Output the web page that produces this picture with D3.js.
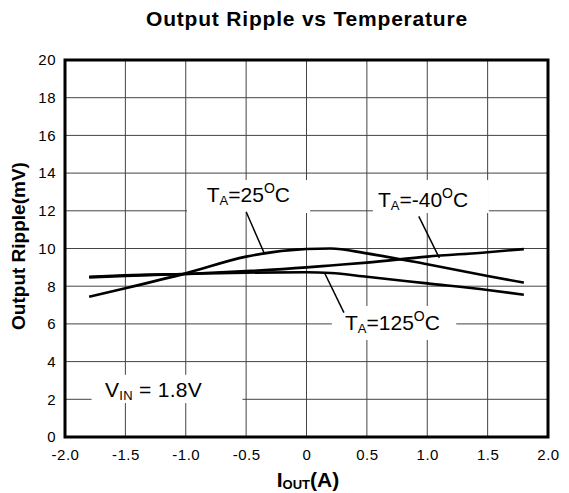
<!DOCTYPE html>
<html>
<head>
<meta charset="utf-8">
<script src="https://cdn.jsdelivr.net/npm/d3@7"></script>
<style>
  body { margin: 0; background: #fff; }
  svg { font-family: "Liberation Sans", Arial, sans-serif; }
</style>
</head>
<body>
<div id="chart"></div>
<script>
// data
var iout = [-1.8, -1.5, -1.0, -0.5, 0, 0.2, 0.5, 1.0, 1.5, 1.8];
var rippleM40 = [8.47, 8.55, 8.65, 8.8, 9.0, 9.1, 9.25, 9.57, 9.8, 9.97];
var ripple25 = [7.44, 7.89, 8.68, 9.57, 9.97, 10.0, 9.74, 9.16, 8.54, 8.19];
var ripple125 = [8.5, 8.58, 8.65, 8.72, 8.74, 8.7, 8.5, 8.15, 7.8, 7.55];
var xTicks = [-2.0, -1.5, -1.0, -0.5, 0, 0.5, 1.0, 1.5, 2.0];
var xTickLabels = ['-2.0', '-1.5', '-1.0', '-0.5', '0', '0.5', '1.0', '1.5', '2.0'];
var yTicks = [0, 2, 4, 6, 8, 10, 12, 14, 16, 18, 20];

var margin = {top: 60, bottom: 56, left: 65, right: 21};
var width = 569 - margin.left - margin.right,
    height = 493 - margin.top - margin.bottom;

var svg = d3.select('#chart').append('svg')
    .attr('width', 569)
    .attr('height', 493);

var g = svg.append('g')
    .attr('transform', 'translate(' + margin.left + ',' + margin.top + ')');

var x = d3.scaleLinear().domain([-2, 2]).range([0, width]);
var y = d3.scaleLinear().domain([0, 20]).range([height, 0]);

// grid
g.append('g').selectAll('line')
    .data(xTicks.slice(1, -1))
    .enter().append('line')
    .attr('x1', function (d) { return x(d); })
    .attr('x2', function (d) { return x(d); })
    .attr('y1', 0).attr('y2', height)
    .attr('stroke', '#444').attr('stroke-width', 1);

g.append('g').selectAll('line')
    .data(yTicks.slice(1, -1))
    .enter().append('line')
    .attr('y1', function (d) { return y(d); })
    .attr('y2', function (d) { return y(d); })
    .attr('x1', 0).attr('x2', width)
    .attr('stroke', '#444').attr('stroke-width', 1);

// axes (labels only, frame drawn separately)
var xAxisCall = d3.axisBottom(x).tickValues(xTicks).tickSize(0).tickPadding(12)
    .tickFormat(function (d, i) { return xTickLabels[i]; });
var xa = g.append('g')
    .attr('transform', 'translate(0,' + height + ')')
    .call(xAxisCall);
xa.select('.domain').remove();
xa.selectAll('text').attr('font-size', '15px').attr('fill', '#000')
    .attr('letter-spacing', '0.5px')
    .attr('font-family', '"Liberation Sans", Arial, sans-serif');

var yAxisCall = d3.axisLeft(y).tickValues(yTicks).tickSize(0).tickPadding(9);
var ya = g.append('g').call(yAxisCall);
ya.select('.domain').remove();
ya.selectAll('text').attr('font-size', '15px').attr('fill', '#000')
    .attr('letter-spacing', '0.5px')
    .attr('font-family', '"Liberation Sans", Arial, sans-serif');

// label backgrounds hide grid
var boxes = [
    {x0: -0.99, x1: 0.03, y0: 13.63, y1: 11.88},
    {x0: 0.55, x1: 1.51, y0: 13.63, y1: 11.88},
    {x0: 0.21, x1: 1.24, y0: 6.95, y1: 5.15},
    {x0: -1.78, x1: -0.53, y0: 3.3, y1: 1.8}
];
g.selectAll('rect.bg')
    .data(boxes)
    .enter().append('rect')
    .attr('x', function (d) { return x(d.x0); })
    .attr('y', function (d) { return y(d.y0); })
    .attr('width', function (d) { return x(d.x1) - x(d.x0); })
    .attr('height', function (d) { return y(d.y1) - y(d.y0); })
    .attr('fill', '#fff');

// frame
g.append('rect')
    .attr('width', width).attr('height', height)
    .attr('fill', 'none').attr('stroke', '#000').attr('stroke-width', 3);

// curves
var line = d3.line()
    .x(function (d) { return x(d[0]); })
    .y(function (d) { return y(d[1]); })
    .curve(d3.curveMonotoneX);

[rippleM40, ripple25, ripple125].forEach(function (s) {
    g.append('path')
        .datum(iout.map(function (v, i) { return [v, s[i]]; }))
        .attr('d', line)
        .attr('fill', 'none')
        .attr('stroke', '#000')
        .attr('stroke-width', 2.6);
});

// leader lines
var leaders = [
    [-0.5, 11.95, -0.35, 9.75],
    [0.93, 11.7, 1.1, 9.5],
    [0.15, 8.7, 0.31, 6.6]
];
g.selectAll('line.ld')
    .data(leaders)
    .enter().append('line')
    .attr('x1', function (d) { return x(d[0]); })
    .attr('y1', function (d) { return y(d[1]); })
    .attr('x2', function (d) { return x(d[2]); })
    .attr('y2', function (d) { return y(d[3]); })
    .attr('stroke', '#000').attr('stroke-width', 1.5);

// annotation text
function tempLabel(px, py, temp) {
    var t = g.append('text')
        .attr('x', x(px)).attr('y', y(py))
        .attr('font-size', '21px').attr('fill', '#000');
    t.append('tspan').text('T');
    t.append('tspan').attr('font-size', '13px').attr('dy', 3).text('A');
    t.append('tspan').attr('dy', -3).text('=' + temp);
    t.append('tspan').attr('font-size', '14px').attr('dy', -9).text('O');
    t.append('tspan').attr('dy', 9).text('C');
}
tempLabel(-0.826, 12.48, '25');
tempLabel(0.592, 12.22, '-40');
tempLabel(0.319, 5.68, '125');

var vin = g.append('text')
    .attr('x', x(-1.669)).attr('y', y(2.14))
    .attr('font-size', '21px').attr('fill', '#000')
    .attr('letter-spacing', '0.3px');
vin.append('tspan').text('V');
vin.append('tspan').attr('font-size', '13px').attr('dy', 3).text('IN');
vin.append('tspan').attr('dy', -3).text(' = 1.8V');

// titles
svg.append('text')
    .attr('x', 307).attr('y', 26)
    .attr('text-anchor', 'middle')
    .attr('font-size', '21px').attr('font-weight', 'bold')
    .attr('letter-spacing', '0.8px')
    .text('Output Ripple vs Temperature');

svg.append('text')
    .attr('transform', 'translate(25,' + 246 + ') rotate(-90)')
    .attr('text-anchor', 'middle')
    .attr('font-size', '19px').attr('font-weight', 'bold')
    .text('Output Ripple(mV)');

var xl = svg.append('text')
    .attr('x', 308).attr('y', 487)
    .attr('text-anchor', 'middle')
    .attr('font-size', '21px').attr('font-weight', 'bold');
xl.append('tspan').text('I');
xl.append('tspan').attr('font-size', '13px').attr('dy', 2).text('OUT');
xl.append('tspan').attr('dy', -2).text('(A)');
</script>
</body>
</html>
